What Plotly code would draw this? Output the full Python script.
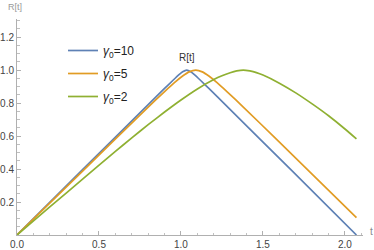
import plotly.graph_objects as go

# gamma0 = 10
t_g10 = [0, 0.4, 0.8, 0.9, 0.95, 0.99, 1.01, 1.035, 1.06, 1.08, 1.12, 1.17, 1.27, 1.67, 2.07]
R_g10 = [0, 0.396, 0.791, 0.889, 0.937, 0.974, 0.99, 1.0, 0.99, 0.974, 0.937, 0.889, 0.791, 0.396, 0.0]

# gamma0 = 5
t_g5 = [0, 0.4, 0.8, 0.9, 0.96, 1.01, 1.05, 1.09, 1.13, 1.17, 1.22, 1.28, 1.38, 1.58, 2.07]
R_g5 = [0, 0.388, 0.776, 0.870, 0.924, 0.964, 0.9895, 1.0, 0.9895, 0.964, 0.924, 0.870, 0.776, 0.583, 0.105]

# gamma0 = 2
t_g2 = [0, 0.2, 0.4, 0.6, 0.7, 0.8, 0.9, 1.0, 1.1, 1.2, 1.25, 1.3, 1.34, 1.38,
        1.42, 1.46, 1.5, 1.6, 1.7, 1.8, 1.9, 2.0, 2.07]
R_g2 = [0, 0.17, 0.339, 0.507, 0.589, 0.669, 0.746, 0.819, 0.886, 0.943, 0.966, 0.984, 0.995, 1.0,
        0.995, 0.985, 0.970, 0.921, 0.862, 0.795, 0.723, 0.643, 0.583]

names = ["<i>γ</i><sub>0</sub>=10", "<i>γ</i><sub>0</sub>=5", "<i>γ</i><sub>0</sub>=2"]
colors = ["#5E81B5", "#E19C24", "#8FB032"]

x_ticks = [0.0, 0.5, 1.0, 1.5, 2.0]
x_ticktext = ["0.0", "0.5", "1.0", "1.5", "2.0"]
y_ticks = [0.2, 0.4, 0.6, 0.8, 1.0, 1.2]
y_ticktext = ["0.2", "0.4", "0.6", "0.8", "1.0", "1.2"]

FONT = "Liberation Sans"

fig = go.Figure()
for i, (tt, rr) in enumerate([(t_g10, R_g10), (t_g5, R_g5), (t_g2, R_g2)]):
    fig.add_trace(go.Scatter(x=tt, y=rr, mode="lines", name=names[i],
                             line=dict(color=colors[i], width=1.7, shape="spline", smoothing=0.5),
                             legendgroup=str(i)))

axis_common = dict(showgrid=False, zeroline=False, showline=True, linecolor="#b0b0b0",
                   linewidth=1, ticks="inside", tickcolor="#b0b0b0", ticklen=4,
                   automargin=False,
                   tickfont=dict(family=FONT, size=10, color="#444444"))

fig.update_xaxes(range=[0, 2.11], tickmode="array", tickvals=x_ticks, ticktext=x_ticktext,
                 minor=dict(ticks="inside", dtick=0.1, tick0=0, ticklen=2.5, tickcolor="#c0c0c0"),
                 **axis_common)
fig.update_yaxes(range=[0, 1.31], tickmode="array", tickvals=y_ticks, ticktext=y_ticktext,
                 minor=dict(ticks="inside", dtick=0.05, tick0=0, ticklen=2.5, tickcolor="#c0c0c0"),
                 **axis_common)

fig.add_annotation(x=1.037, y=1.079, xref="x", yref="y", text="R[t]", showarrow=False,
                   font=dict(family=FONT, size=10, color="#333333"))
fig.add_annotation(x=(14.5 - 17) / 346, y=(235 - 7) / 216, xref="paper", yref="paper", text="R[t]",
                   showarrow=False, xanchor="center", yanchor="middle",
                   font=dict(family=FONT, size=9, color="#999999"))
fig.add_annotation(x=(372 - 17) / 346, y=(235 - 231) / 216, xref="paper", yref="paper", text="t",
                   showarrow=False, xanchor="center", yanchor="middle",
                   font=dict(family=FONT, size=10, color="#888888"))

fig.update_layout(
    width=374, height=250,
    margin=dict(l=17, r=11, t=19, b=15),
    paper_bgcolor="white", plot_bgcolor="white",
    showlegend=True,
    legend=dict(x=0.133, y=(235 - 36) / 216, xanchor="left", yanchor="top", traceorder="grouped",
                tracegroupgap=4, bgcolor="rgba(0,0,0,0)",
                font=dict(family=FONT, size=12, color="#222222")),
)

fig.write_html("out.html", config={"displayModeBar": False},
               post_script="document.body.style.margin='0px';")
